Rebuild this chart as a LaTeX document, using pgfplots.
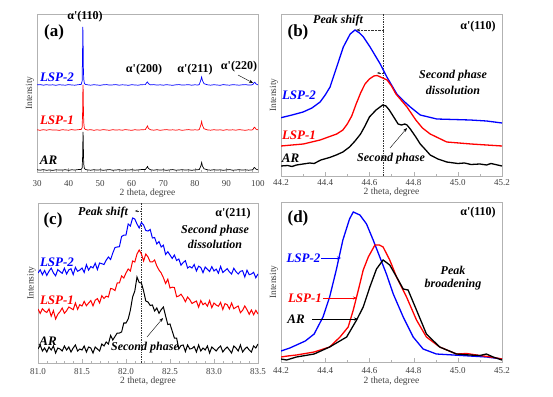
\documentclass[border=0pt]{standalone}
\usepackage{pgfplots}
\pgfplotsset{compat=1.18}
\usepackage{pgfplotstable}
\usepackage{fontspec}
\setmainfont{Liberation Serif}
\usetikzlibrary{arrows.meta}

\definecolor{lblue}{RGB}{0,0,255}
\definecolor{lred}{RGB}{255,0,0}

\pgfplotstableread{
x     ar    l1    l2
30    2.3   42.2  87.1
31    1.8   41.7  87.4
32    2.4   42.3  86.8
33    1.7   41.8  87.3
34    2.1   42.4  86.9
35    1.6   41.9  87.2
36    2.2   42.1  86.7
37    2.0   41.6  87.3
38    1.9   42.3  87.0
39    2.3   42.0  86.8
40    1.7   41.8  87.4
41    2.2   42.4  87.0
42    2.0   41.9  86.8
43    2.4   42.3  87.3
44.0  2.6   42.6  87.6
44.3  4.0   44.5  91
44.45 15    60    125
44.52 30    80    145
44.6  40    87    132
44.68 25    68    105
44.8  8     50    93
45.0  3.5   43.5  88.5
45.4  2.5   42.5  87.5
46    2.1   42.0  87.2
47    1.8   42.3  86.8
48    2.3   41.7  87.3
49    1.9   42.2  87.0
50    2.2   41.8  86.7
51    1.7   42.4  87.2
52    2.1   42.0  87.4
53    2.4   41.7  86.9
54    1.8   42.3  87.1
55    2.0   41.9  87.4
56    2.3   42.2  86.8
57    1.7   41.8  87.2
58    2.2   42.4  87.0
59    1.9   42.0  86.7
60    2.3   41.7  87.3
61    1.8   42.3  87.0
62    2.1   41.9  86.8
63    2.4   42.2  87.3
64.3  2.4   42.4  87.4
64.8  4.5   45    89.5
65.0  5.5   46    90
65.3  3.5   43.5  88.3
66    2.2   42.2  87.1
67    1.8   41.8  87.4
68    2.3   42.3  86.9
69    1.9   41.7  87.2
70    2.2   42.1  86.8
71    1.7   42.4  87.3
72    2.1   41.9  87.0
73    2.4   42.2  86.7
74    1.8   41.8  87.2
75    2.0   42.3  87.4
76    2.3   41.7  86.9
77    1.9   42.1  87.1
78    2.2   42.4  87.3
79    1.7   41.9  86.8
80    2.1   42.2  87.2
81    2.3   42.0  87.0
81.4  2.5   42.5  87.5
81.9  6     47    92
82.15 9.5   50.5  95
82.4  6     46.5  91.5
82.9  3.2   43.2  88.3
84    2.2   42.1  87.2
85    1.8   41.8  86.8
86    2.3   42.3  87.3
87    1.9   41.9  87.0
88    2.2   42.2  86.7
89    1.7   41.7  87.4
90    2.1   42.3  87.0
91    2.4   41.9  86.8
92    1.8   42.2  87.3
93    2.0   41.8  87.1
94    2.3   42.4  86.8
95    1.9   42.0  87.2
96    2.2   41.7  87.4
97    1.8   42.2  86.9
98    2.1   41.9  87.1
98.4  2.5   42.5  87.6
98.8  4.5   44.8  89.5
99.0  4.2   44.5  89.8
99.3  3.0   43.0  88.2
100   2.1   42.1  87.1
}\tabA

\pgfplotstableread{
x      b      r      k
81.000 90     54     14
81.025 93.2   49.6   18
81.050 88.3   54.3   12
81.075 92.5   51.9   15
81.100 87.6   50.5   11
81.125 91.8   54.1   16
81.150 94.9   46.8   13
81.175 90.1   52.4   17
81.200 87.2   44     10
81.225 93.4   48.7   15
81.250 91.5   51.3   14
81.275 89.7   55     12
81.300 94.8   49.7   17
81.325 89     52.3   13
81.350 93.1   56     16
81.375 94.3   54.7   11
81.400 88.4   53.3   15
81.425 95.6   60     18
81.450 91.7   53.7   12
81.475 92.9   58.3   14
81.500 95     57     13
81.525 90.6   61.6   17
81.550 98.3   57.3   11
81.575 92.9   59.9   16
81.600 96.5   62.5   15
81.625 95.1   57.1   10
81.650 99.8   62.8   16
81.675 93.4   64.4   14
81.700 100    60     12
81.725 99.3   67.3   19
81.750 98.5   64.5   17
81.775 102.8  66.8   21
81.800 106    66     19
81.825 103.5  74.5   27.5
81.850 110    74     23
81.875 115.5  72.5   26.5
81.900 116    80     30
81.925 116.3  80     30
81.950 126.5  87     31
81.975 127.8  85     40
82.000 128    90     40
82.025 139    94     44
82.050 137    92     53
82.075 145    102    66
82.100 144    101    72
82.125 139    109    86
82.150 135    113    80.5
82.175 140.5  109    80
82.200 138    102    72
82.225 132.5  109    62
82.250 132    106    61
82.275 133.5  101    57.5
82.300 125    101    58
82.325 125.5  103    52
82.350 119    97     55
82.375 121.5  93     49.7
82.400 116    90     53.3
82.425 117.8  85.3   56
82.450 108.5  79.5   47
82.475 111.3  83.8   38.5
82.500 108    75     39
82.525 104.5  75.8   32
82.550 108    75.5   25
82.575 102.5  66.3   25
82.600 104    67     14
82.625 97.8   68.8   17.5
82.650 100.5  65.5   18
82.675 102.3  61.3   11.5
82.700 95     66     18
82.725 96.5   63.3   14
82.750 95     59.5   14.5
82.775 98.5   60.8   16.5
82.800 92     62     11
82.825 96.8   55.8   18
82.850 95.5   62.5   12
82.875 90.3   58.3   15
82.900 96     60     13
82.925 93.8   56.8   17
82.950 91.5   62.5   10
82.975 96.3   55.3   16
83.000 92     60     14
83.025 93.9   57.9   12
83.050 89.8   56.8   15
83.075 96.6   60.6   17
83.100 90.5   53.5   11
83.125 92.4   59.4   14
83.150 94.3   58.3   16
83.175 91.1   54.1   13
83.200 89     60     10
83.225 94.7   54.3   17
83.250 91.3   55.7   15
83.275 89     57     12
83.300 91.7   50.3   18
83.325 92.3   52.7   11
83.350 86     57     14
83.375 92.7   53.3   16
83.400 88.3   48.7   13
83.425 89     53     11
83.450 90.7   48.3   17
83.475 85.3   52.7   15
83.500 89     49     19
}\tabC

\pgfplotsset{
  panel/.style={
    scale only axis,
    axis line style={gray!60},
    tick style={gray!60},
    ytick=\empty,
    xtick pos=left,
    tick align=inside,
    major tick length=4pt,
    minor tick length=2pt,
    ymin=0,
    /pgf/number format/assume math mode=true,
    xticklabel style={font=\fontsize{9}{9}\selectfont, text=black!75, anchor=center},
    label style={font=\fontsize{9.5}{9.5}\selectfont, text=black!75},
    xlabel={2 theta, degree},
    ylabel={Intensity},
  },
  xlab/.style={xlabel style={at={([yshift=#1]axis description cs:0.5,0)}, anchor=center}},
  ylab/.style={ylabel style={at={([xshift=#1]axis description cs:0,0.5)}, anchor=center}},
  dec1/.style={xticklabel style={/pgf/number format/fixed, /pgf/number format/fixed zerofill, /pgf/number format/precision=1}},
}

\newcommand{\lab}[1]{\fontsize{#1}{#1}\selectfont\bfseries\itshape}
\newcommand{\hkl}[1]{\fontsize{12}{12}\selectfont\bfseries α\textquotesingle(#1)}

\begin{document}
\begin{tikzpicture}[x=1pt,y=1pt]
\useasboundingbox (0,0) rectangle (553,396);

% ---------------- (a)
\begin{axis}[panel, at={(37pt,224pt)}, anchor=south west,
  width=221pt, height=158pt, xmin=30, xmax=100, ymax=158,
  xtick={30,40,...,100}, minor tick num=4,
  xticklabel style={yshift=-11.5pt},
  xlab=-21.5pt, ylab=-7pt]
\addplot[black, line width=0.7pt] table[x=x, y=ar] {\tabA};
\addplot[lred, line width=0.7pt] table[x=x, y=l1] {\tabA};
\addplot[lblue, line width=0.7pt] table[x=x, y=l2] {\tabA};
\end{axis}

% ---------------- (b)
\begin{axis}[panel, dec1, at={(281pt,220pt)}, anchor=south west,
  width=221pt, height=162pt, xmin=44.2, xmax=45.2, ymax=162,
  xtick={44.2,44.4,44.6,44.8,45.0,45.2}, minor tick num=1,
  xticklabel style={yshift=-6.7pt},
  xlab=-16pt, ylab=-7pt]
\addplot[black!80, densely dotted, line width=0.7pt] coordinates {(44.664,0) (44.664,162)};
\addplot[lblue, line width=1.3pt] coordinates {
(44.20,58.3) (44.25,61) (44.30,64) (44.34,68) (44.377,74) (44.40,81) (44.422,89)
(44.452,109) (44.482,129) (44.513,142) (44.535,146) (44.555,143) (44.573,139)
(44.603,129) (44.649,112) (44.679,99) (44.724,82) (44.755,75) (44.785,69)
(44.830,61) (44.905,57) (44.98,56.5) (45.056,56) (45.13,55) (45.2,53)};
\addplot[lred, line width=1.3pt] coordinates {
(44.2,30) (44.25,31) (44.301,32) (44.377,36) (44.452,42) (44.48,46) (44.5,52)
(44.52,60) (44.54,72) (44.56,83) (44.58,92) (44.60,97) (44.62,100) (44.635,100.5)
(44.65,99) (44.68,96) (44.70,90) (44.72,82) (44.77,69) (44.81,56) (44.84,48)
(44.875,42) (44.95,34) (45.06,32) (45.2,30)};
\addplot[black, line width=1.3pt] coordinates {
(44.2,10) (44.23,10.5) (44.25,9.5) (44.27,11) (44.30,12) (44.33,13) (44.35,12.5)
(44.38,16) (44.42,18.5) (44.45,21) (44.48,24) (44.51,29) (44.535,35) (44.56,42)
(44.58,50) (44.60,59) (44.63,66) (44.66,71) (44.675,70) (44.69,66) (44.71,59)
(44.73,52) (44.745,51) (44.76,52) (44.77,51) (44.785,47) (44.81,39) (44.83,32)
(44.855,26) (44.875,21) (44.91,17) (44.95,14) (45.0,12.5) (45.03,13) (45.06,11.5)
(45.1,12) (45.13,11) (45.15,12.5) (45.18,11) (45.2,10)};
\draw[black!80, densely dotted, -{Stealth[length=4pt]}] (axis cs:44.664,146) -- (axis cs:44.54,146);
\draw[black!80, densely dotted, -{Stealth[length=3pt]}] (axis cs:44.664,103) -- (axis cs:44.634,103);
\end{axis}

% ---------------- (c)
\begin{axis}[panel, dec1, at={(38pt,33pt)}, anchor=south west,
  width=220pt, height=160pt, xmin=81, xmax=83.5, ymax=160,
  xtick={81.0,81.5,82.0,82.5,83.0,83.5}, minor tick num=4,
  xticklabel style={yshift=-8.5pt},
  xlab=-18.5pt, ylab=-6.5pt]
\addplot[black!80, densely dotted, line width=0.7pt] coordinates {(82.174,0) (82.174,160)};
\addplot[lblue, line width=1pt] table[x=x, y=b] {\tabC};
\addplot[lred, line width=1pt] table[x=x, y=r] {\tabC};
\addplot[black, line width=1pt] table[x=x, y=k] {\tabC};
\draw[black!80, densely dotted, -{Stealth[length=3pt]}] (axis cs:82.174,152) -- (axis cs:82.1,152);
\end{axis}

% ---------------- (d)
\begin{axis}[panel, dec1, at={(281pt,34pt)}, anchor=south west,
  width=221pt, height=160pt, xmin=44.2, xmax=45.2, ymax=160,
  xtick={44.2,44.4,44.6,44.8,45.0,45.2}, minor tick num=1,
  xticklabel style={yshift=-9pt},
  xlab=-19pt, ylab=-7pt]
\addplot[lblue, line width=1.3pt] coordinates {
(44.2,11) (44.24,14) (44.27,17) (44.31,21) (44.35,28) (44.39,45) (44.42,65)
(44.45,92) (44.48,122) (44.51,143) (44.527,150) (44.557,147) (44.587,138)
(44.617,122) (44.647,105) (44.677,88) (44.708,68) (44.753,45) (44.798,25)
(44.843,13) (44.903,8) (44.98,7) (45.054,6) (45.13,5) (45.2,3)};
\addplot[lred, line width=1.3pt] coordinates {
(44.2,5) (44.23,6) (44.27,7) (44.35,10) (44.42,15) (44.467,25) (44.504,35)
(44.527,52) (44.55,72) (44.572,92) (44.595,105) (44.625,117) (44.645,117)
(44.662,115) (44.692,102) (44.723,85) (44.768,65) (44.813,42) (44.858,25)
(44.918,15) (44.994,8) (45.04,8.5) (45.084,7) (45.15,5) (45.2,3)};
\addplot[black, line width=1.3pt] coordinates {
(44.2,3) (44.225,2) (44.27,5) (44.35,8) (44.42,15) (44.497,25) (44.542,42)
(44.572,55) (44.602,75) (44.632,93) (44.662,102) (44.692,97) (44.723,85)
(44.753,73) (44.775,72) (44.813,52) (44.858,28) (44.918,15) (44.994,8)
(45.054,7) (45.1,6.5) (45.129,8) (45.16,5) (45.2,2)};
\end{axis}

% ---------------- annotations (a)
\node at (54,364) {\fontsize{17}{17}\selectfont\bfseries (a)};
\node at (85,379) {\hkl{110}};
\node at (144,326) {\hkl{200}};
\node at (195,326) {\hkl{211}};
\node at (239,329) {\hkl{220}};
\draw[-{Stealth[length=4pt]}, thin] (238,321) -- (253,313);
\node[text=lblue] at (57,319) {\lab{13}LSP-2};
\node[text=lred] at (57,276) {\lab{13}LSP-1};
\node at (48.5,236) {\lab{13}AR};

% ---------------- annotations (b)
\node at (298,364) {\fontsize{17}{17}\selectfont\bfseries (b)};
\node at (338,375) {\lab{12}Peak shift};
\node at (478,369) {\hkl{110}};
\node at (453,320) {\lab{12}Second phase};
\node at (453,306) {\lab{12}dissolution};
\node[text=lblue] at (299,301) {\lab{13}LSP-2};
\node[text=lred] at (299,261) {\lab{13}LSP-1};
\node at (290.5,238) {\lab{13}AR};
\node at (391,237) {\lab{12}Second phase};
\draw[-{Stealth[length=4pt]}, thin] (390,248) -- (407,268);

% ---------------- annotations (c)
\node at (53,176) {\fontsize{17}{17}\selectfont\bfseries (c)};
\node at (103,183) {\lab{12}Peak shift};
\node at (233,182) {\hkl{211}};
\node at (215,165) {\lab{12}Second phase};
\node at (215,152) {\lab{12}dissolution};
\node[text=lblue] at (57,134) {\lab{13}LSP-2};
\node[text=lred] at (57,96) {\lab{13}LSP-1};
\node at (48,55) {\lab{13}AR};
\node at (145,48) {\lab{12}Second phase};
\draw[-{Stealth[length=4pt]}, thin] (147,59) -- (163,78);

% ---------------- annotations (d)
\node at (298,178) {\fontsize{17}{17}\selectfont\bfseries (d)};
\node at (478,183) {\hkl{110}};
\node at (453,126) {\lab{12}Peak};
\node at (453,111) {\lab{12}broadening};
\node[text=lblue] at (303.5,138) {\lab{13}LSP-2};
\draw[lblue, -{Stealth[length=4pt]}, thin] (321,138) -- (341,138);
\node[text=lred] at (305,98) {\lab{13}LSP-1};
\draw[lred, -{Stealth[length=4pt]}, thin] (323,98) -- (357,98);
\node at (296,77) {\lab{13}AR};
\draw[black, -{Stealth[length=4pt]}, thin] (312,77) -- (358,77);
\end{tikzpicture}
\end{document}
